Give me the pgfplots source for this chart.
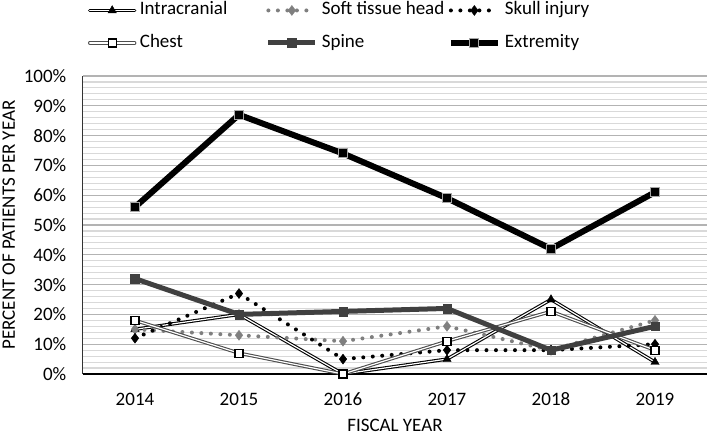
\documentclass[border=0pt]{standalone}
\usepackage{fontspec}
\setmainfont{Carlito}
\usepackage{pgfplots}
\pgfplotsset{compat=1.18}
\definecolor{spinegray}{HTML}{404040}
\definecolor{softgray}{HTML}{7F7F7F}
\definecolor{chestgray}{HTML}{4D4D4D}
\definecolor{majgrid}{HTML}{B3B3B3}
\definecolor{mingrid}{HTML}{D9D9D9}
\definecolor{extborder}{HTML}{A6A6A6}
\pgfplotsset{
  dbl black legend/.style={legend image code/.code={
    \draw[black, line width=3.4bp, line cap=round] (1bp,5.8bp) -- (46bp,5.8bp);
    \draw[white, line width=1.2bp, line cap=round] (1bp,5.8bp) -- (46bp,5.8bp);
    \draw[##1] plot coordinates {(23.5bp,5.8bp)};
    \path (0bp,0bp) (51bp,0bp);
  }},
  dbl gray legend/.style={legend image code/.code={
    \draw[chestgray, line width=3.4bp, line cap=round] (1bp,5.8bp) -- (46bp,5.8bp);
    \draw[white, line width=1.2bp, line cap=round] (1bp,5.8bp) -- (46bp,5.8bp);
    \draw[##1] plot coordinates {(23.5bp,5.8bp)};
    \path (0bp,0bp) (51bp,0bp);
  }},
  std legend/.style={legend image code/.code={
    \draw[##1] (0bp,5.8bp) -- (47bp,5.8bp);
    \draw[##1] plot coordinates {(23.5bp,5.8bp)};
    \path (0bp,0bp) (51bp,0bp);
  }},
}
\begin{document}
\begin{tikzpicture}[font=\fontsize{19bp}{23bp}\selectfont]
\begin{axis}[
  scale only axis, width=624bp, height=298bp,
  xmin=-0.5, xmax=5.5, ymin=0, ymax=100,
  xtick={0,1,2,3,4,5}, xticklabels={2014,2015,2016,2017,2018,2019},
  ytick={0,10,...,100},
  yticklabels={0\%,10\%,20\%,30\%,40\%,50\%,60\%,70\%,80\%,90\%,100\%},
  minor y tick num=4,
  ymajorgrids, yminorgrids,
  major grid style={draw=majgrid, line width=1.1bp},
  minor grid style={draw=mingrid, line width=1.1bp},
  major tick length=0pt, minor tick length=0pt,
  axis x line*=bottom, axis y line*=left,
  x axis line style={black, line width=1.3bp, -},
  y axis line style={black!80, line width=1bp, -},
  xticklabel style={anchor=base, inner sep=0pt, yshift=-31bp},
  yticklabel style={anchor=east, inner sep=0pt, xshift=-16.5bp},
  xlabel={FISCAL YEAR},
  ylabel={PERCENT OF PATIENTS PER YEAR},
  xlabel style={at={([yshift=-57bp]axis description cs:0.5,0)}, anchor=base, inner sep=0pt},
  ylabel style={at={([xshift=-68bp]axis description cs:0,0.5)}, anchor=base, inner sep=0pt},
  clip=false,
  legend columns=3,
  legend cell align=left,
  legend style={at={(0,1)}, anchor=north west, xshift=5bp, yshift=76bp,
    draw=none, fill=none, inner sep=0pt, outer sep=0pt,
    nodes={inner sep=0pt, text height=15bp, text depth=17.5bp}},
  std legend,
]
% Intracranial (double black line, triangles)
\addplot[forget plot, draw=black, line width=3.4bp] coordinates {(0,15) (1,20) (2,0) (3,5) (4,25) (5,4)};
\addplot[forget plot, draw=white, line width=1.2bp] coordinates {(0,15) (1,20) (2,0) (3,5) (4,25) (5,4)};
\addplot[only marks, mark=triangle*, mark size=4.8bp, mark options={fill=black, draw=black, line width=0.4bp},
  dbl black legend] coordinates {(0,15) (1,20) (2,0) (3,5) (4,25) (5,4)};
\addlegendentry{\makebox[126bp][l]{Intracranial}}
% Soft tissue head (gray dotted, diamonds)
\addplot[draw=softgray, line width=4bp, line cap=round, dash pattern=on 0bp off 9.5bp,
  mark=diamond*, mark size=5bp, mark options={solid, fill=softgray, draw=softgray, line width=0.4bp}]
  coordinates {(0,15) (1,13) (2,11) (3,16) (4,8) (5,18)};
\addlegendentry{\makebox[126bp][l]{Soft tissue head}}
% Skull injury (black dotted, diamonds)
\addplot[draw=black, line width=4bp, line cap=round, dash pattern=on 0bp off 9.5bp,
  mark=diamond*, mark size=5bp, mark options={solid, fill=black, draw=black, line width=0.4bp}]
  coordinates {(0,12) (1,27) (2,5) (3,8) (4,8) (5,10)};
\addlegendentry{\makebox[126bp][l]{Skull injury}}
% Chest (double gray line, white squares)
\addplot[forget plot, draw=chestgray, line width=3.4bp] coordinates {(0,18) (1,7) (2,0) (3,11) (4,21) (5,8)};
\addplot[forget plot, draw=white, line width=1.2bp] coordinates {(0,18) (1,7) (2,0) (3,11) (4,21) (5,8)};
\addplot[only marks, mark=square*, mark size=4bp, mark options={fill=white, draw=black, line width=1.2bp},
  dbl gray legend] coordinates {(0,18) (1,7) (2,0) (3,11) (4,21) (5,8)};
\addlegendentry{\makebox[126bp][l]{Chest}}
% Spine (thick dark gray, squares)
\addplot[draw=spinegray, line width=5bp, mark=square*, mark size=4.3bp,
  mark options={fill=spinegray, draw=spinegray, line width=0.4bp}]
  coordinates {(0,32) (1,20) (2,21) (3,22) (4,8) (5,16)};
\addlegendentry{\makebox[126bp][l]{Spine}}
% Extremity (thick black, black squares with gray border)
\addplot[draw=black, line width=6bp, mark=square*, mark size=4.5bp,
  mark options={fill=black, draw=extborder, line width=1bp}]
  coordinates {(0,56) (1,87) (2,74) (3,59) (4,42) (5,61)};
\addlegendentry{\makebox[126bp][l]{Extremity}}
\end{axis}
\pgfresetboundingbox
\path (-83bp,-62bp) rectangle (626bp,374bp);
\end{tikzpicture}
\end{document}
